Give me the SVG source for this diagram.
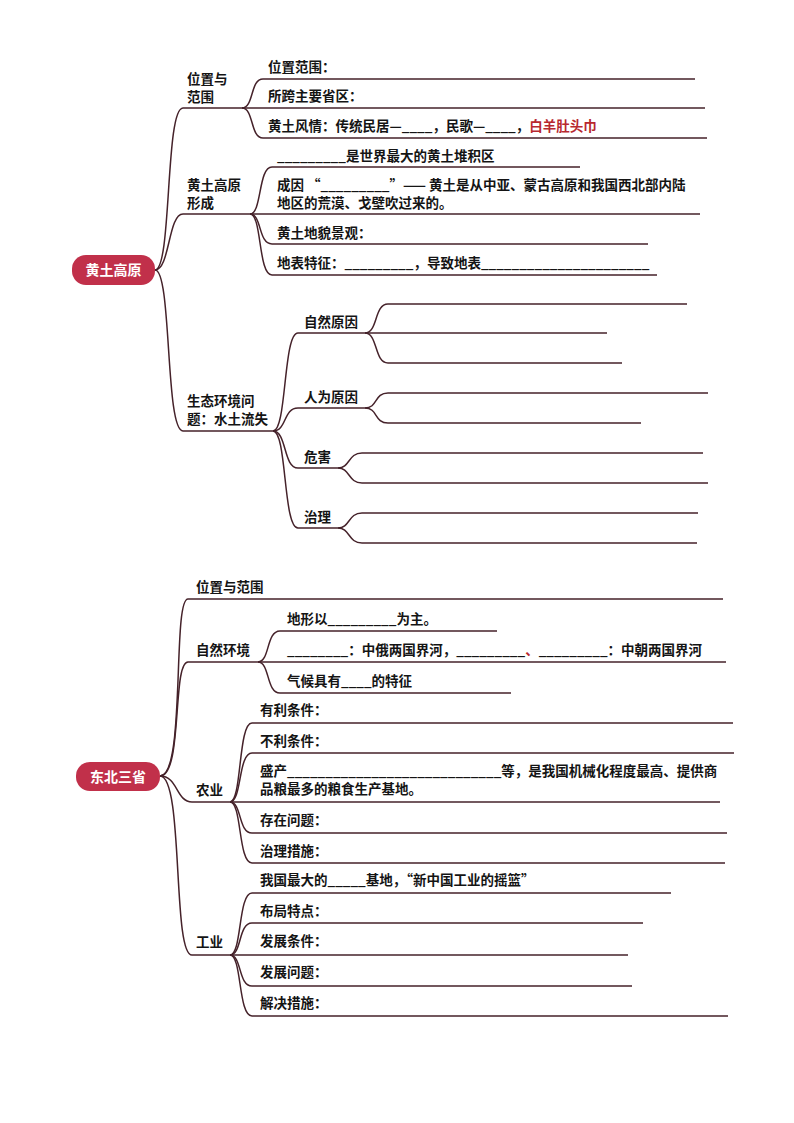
<svg xmlns="http://www.w3.org/2000/svg" width="794" height="1123" viewBox="0 0 794 1123">
<style>
.t{font-family:"Noto Sans CJK SC","Noto Sans",sans-serif;font-size:13.5px;font-weight:bold;fill:#141414}
.r{fill:#b8282f}
.root{fill:#c1304a}
.rt{font-family:"Noto Sans CJK SC","Noto Sans",sans-serif;font-size:14px;font-weight:bold;fill:#ffffff}
.c{fill:none;stroke:#45222a;stroke-width:1.5}
</style>
<rect width="794" height="1123" fill="#ffffff"/>
<g id="connectors">
<path class="c" d="M155,270 C172,270 165,108 183,108 H242"/>
<path class="c" d="M155,270 C170,270 168,214 183,214 H250"/>
<path class="c" d="M155,270 C172,270 165,431 183,431 H273"/>
<path class="c" d="M242,108 C254,108 250,79 263,79 H695"/>
<path class="c" d="M242,108 H705"/>
<path class="c" d="M242,108 C254,108 250,138 263,138 H707"/>
<path class="c" d="M250,214 C262,214 258,167 272,167 H580"/>
<path class="c" d="M250,214 H700"/>
<path class="c" d="M250,214 C262,214 258,244 272,244 H648"/>
<path class="c" d="M250,214 C262,214 258,275 272,275 H657"/>
<path class="c" d="M273,431 C287,431 283,333 298,333 H365"/>
<path class="c" d="M273,431 C287,431 283,408 298,408 H365"/>
<path class="c" d="M273,431 C287,431 283,468 298,468 H338"/>
<path class="c" d="M273,431 C287,431 283,528 298,528 H338"/>
<path class="c" d="M365,333 C378,333 374,304 388,304 H687"/>
<path class="c" d="M365,333 H607"/>
<path class="c" d="M365,333 C378,333 374,363 388,363 H622"/>
<path class="c" d="M365,408 C378,408 374,393 388,393 H708"/>
<path class="c" d="M365,408 C378,408 374,423 388,423 H641"/>
<path class="c" d="M338,468 C350,468 348,453 362,453 H703"/>
<path class="c" d="M338,468 C350,468 348,483 362,483 H708"/>
<path class="c" d="M338,528 C350,528 348,513 362,513 H698"/>
<path class="c" d="M338,528 C350,528 348,543 362,543 H697"/>
<path class="c" d="M160,776 C186,776 172,599 188,599 H723"/>
<path class="c" d="M160,776 C183,776 172,662 188,662 H258"/>
<path class="c" d="M160,776 C178,776 176,802 192,802 H230"/>
<path class="c" d="M160,776 C184,776 172,955 192,955 H230"/>
<path class="c" d="M258,662 C270,662 266,631 280,631 H497"/>
<path class="c" d="M258,662 H726"/>
<path class="c" d="M258,662 C270,662 266,693 280,693 H511"/>
<path class="c" d="M230,802 C242,802 238,723 252,723 H733"/>
<path class="c" d="M230,802 C242,802 238,753 252,753 H734"/>
<path class="c" d="M230,802 H720"/>
<path class="c" d="M230,802 C242,802 238,833 252,833 H727"/>
<path class="c" d="M230,802 C242,802 238,863 252,863 H725"/>
<path class="c" d="M230,955 C242,955 238,893 252,893 H671"/>
<path class="c" d="M230,955 C242,955 238,923 252,923 H643"/>
<path class="c" d="M230,955 H628"/>
<path class="c" d="M230,955 C242,955 238,986 252,986 H632"/>
<path class="c" d="M230,955 C242,955 238,1016 252,1016 H728"/>
</g>

<g id="root-huangtu">
<rect class="root" x="72" y="255" width="83" height="30" rx="14"/>
<text class="rt" x="113.5" y="275" text-anchor="middle">黄土高原</text>
</g>
<g id="n-weizhi1"><text class="t" x="187" y="84">位置与<tspan x="187" dy="18">范围</tspan></text></g>
<g id="n-weizhifanwei"><text class="t" x="268" y="72">位置范围：</text></g>
<g id="n-kuasheng"><text class="t" x="268" y="101">所跨主要省区：</text></g>
<g id="n-fengqing"><text class="t" x="268" y="131">黄土风情：传统民居—____，民歌—____，<tspan class="r">白羊肚头巾</tspan></text></g>

<g id="n-xingcheng"><text class="t" x="187" y="190">黄土高原<tspan x="187" dy="18">形成</tspan></text></g>
<g id="n-duiji"><text class="t" x="277" y="161">_________是世界最大的黄土堆积区</text></g>
<g id="n-chengyin"><text class="t" x="277" y="190">成因  “_________”—— 黄土是从中亚、蒙古高原和我国西北部内陆<tspan x="277" dy="18">地区的荒漠、戈壁吹过来的。</tspan></text></g>
<g id="n-dimao"><text class="t" x="277" y="238">黄土地貌景观：</text></g>
<g id="n-dibiao"><text class="t" x="277" y="268">地表特征：_________，导致地表______________________</text></g>

<g id="n-shengtai"><text class="t" x="187" y="406">生态环境问<tspan x="187" dy="18">题：水土流失</tspan></text></g>
<g id="n-ziran"><text class="t" x="304" y="327">自然原因</text></g>
<g id="n-renwei"><text class="t" x="304" y="402">人为原因</text></g>
<g id="n-weihai"><text class="t" x="304" y="462">危害</text></g>
<g id="n-zhili"><text class="t" x="304" y="522">治理</text></g>

<g id="root-dongbei">
<rect class="root" x="76" y="762" width="84" height="29" rx="14"/>
<text class="rt" x="118" y="781.5" text-anchor="middle">东北三省</text>
</g>
<g id="n-weizhi2"><text class="t" x="196" y="592">位置与范围</text></g>
<g id="n-zirhj"><text class="t" x="196" y="655">自然环境</text></g>
<g id="n-dixing"><text class="t" x="287" y="624">地形以_________为主。</text></g>
<g id="n-jiehe"><text class="t" x="287" y="655">________：中俄两国界河，_________<tspan class="r">、</tspan>_________：中朝两国界河</text></g>
<g id="n-qihou"><text class="t" x="287" y="686">气候具有____的特征</text></g>

<g id="n-nongye"><text class="t" x="196" y="795">农业</text></g>
<g id="n-youli"><text class="t" x="260" y="715">有利条件：</text></g>
<g id="n-buli"><text class="t" x="260" y="746">不利条件：</text></g>
<g id="n-shengchan"><text class="t" x="260" y="776">盛产____________________________等，是我国机械化程度最高、提供商<tspan x="260" dy="18">品粮最多的粮食生产基地。</tspan></text></g>
<g id="n-cunzai"><text class="t" x="260" y="825">存在问题：</text></g>
<g id="n-zhilics"><text class="t" x="260" y="856">治理措施：</text></g>

<g id="n-gongye"><text class="t" x="196" y="947">工业</text></g>
<g id="n-zuida"><text class="t" x="260" y="885">我国最大的_____基地，“新中国工业的摇篮”</text></g>
<g id="n-buju"><text class="t" x="260" y="916">布局特点：</text></g>
<g id="n-tiaojian"><text class="t" x="260" y="946">发展条件：</text></g>
<g id="n-wenti"><text class="t" x="260" y="977">发展问题：</text></g>
<g id="n-jiejue"><text class="t" x="260" y="1008">解决措施：</text></g>
</svg>
